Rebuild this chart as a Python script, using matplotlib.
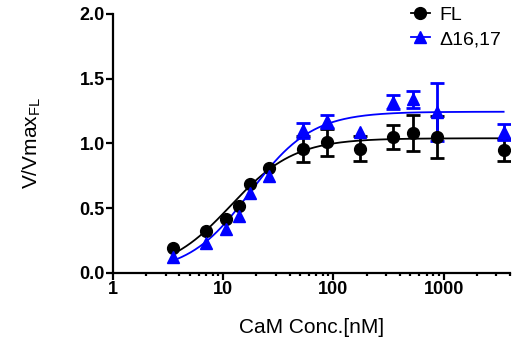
import matplotlib
matplotlib.use("Agg")
import matplotlib.pyplot as plt
import numpy as np
from matplotlib.lines import Line2D
from matplotlib.ticker import LogLocator, NullFormatter, FixedLocator

plt.rcParams['font.family'] = ['Liberation Sans', 'DejaVu Sans']

# CaM concentration (nM)
conc = [3.5, 7, 10.5, 14, 17.5, 26.25, 52.5, 87.5, 175, 350, 525, 875, 3500]

fl_mean = [0.19, 0.32, 0.42, 0.52, 0.69, 0.81, 0.96, 1.01, 0.96, 1.05, 1.08, 1.05, 0.95]
fl_err = [0, 0, 0, 0, 0, 0, 0.10, 0.105, 0.095, 0.095, 0.14, 0.165, 0.087]

d_mean = [0.12, 0.23, 0.34, 0.44, 0.62, 0.75, 1.10, 1.17, 1.09, 1.32, 1.34, 1.24, 1.09]
d_err = [0, 0, 0, 0, 0, 0, 0.055, 0.05, 0, 0.055, 0.065, 0.225, 0.06]

# Hill fit parameters (top, EC50, Hill slope)
fl_fit = (1.04, 11.7, 1.5)
d_fit = (1.245, 17.5, 1.55)

labels = ['FL', 'Δ16,17']
colors = ['black', '#0000ff']
markers = ['o', '^']


def hill(x, top, ec50, n):
    return top * x ** n / (ec50 ** n + x ** n)


fig = plt.figure(figsize=(5.26, 3.49), dpi=100)
ax = fig.add_axes([0.2148, 0.218, 0.7548, 0.742])

xfit = np.logspace(np.log10(conc[0]), np.log10(conc[-1]), 300)
series = [(fl_mean, fl_err, fl_fit), (d_mean, d_err, d_fit)]
handles = []
for (m, e, p), col, mk, lab in zip(series, colors, markers, labels):
    ax.plot(xfit, hill(xfit, *p), color=col, lw=1.3, zorder=2)
    err = np.array(e, dtype=float)
    err[err == 0] = np.nan
    ms = 8.5 if mk == 'o' else 8
    ax.errorbar(conc, m, yerr=err, fmt=mk, color=col, ms=ms,
                elinewidth=2, capsize=5, capthick=2, zorder=3)
    handles.append(Line2D([], [], color=col, marker=mk, ms=ms, lw=1.3))

ax.set_xscale('log')
ax.set_xlim(1, 4000)
ax.set_ylim(0, 2.0)
ax.set_yticks([0, 0.5, 1.0, 1.5, 2.0])
ax.set_yticklabels(['0.0', '0.5', '1.0', '1.5', '2.0'])
ax.xaxis.set_major_locator(FixedLocator([1, 10, 100, 1000]))
ax.set_xticklabels(['1', '10', '100', '1000'])
ax.xaxis.set_minor_locator(LogLocator(base=10, subs=np.arange(2, 10), numticks=20))
ax.xaxis.set_minor_formatter(NullFormatter())

for s in ['top', 'right']:
    ax.spines[s].set_visible(False)
for s in ['left', 'bottom']:
    ax.spines[s].set_linewidth(1.6)

ax.tick_params(axis='both', which='major', direction='out', length=5, width=1.6,
               labelsize=13, pad=1)
ax.tick_params(axis='x', which='minor', direction='out', length=2.5, width=1.6)
for t in ax.get_xticklabels() + ax.get_yticklabels():
    t.set_fontweight('bold')

ax.set_xlabel('CaM Conc.[nM]', fontsize=15, labelpad=14)
ax.set_ylabel('V/Vmax$_{\\mathregular{FL}}$', fontsize=15, labelpad=26)

ax.legend(handles=handles, labels=labels, loc='upper left',
          bbox_to_anchor=(0.73, 1.06), frameon=False, fontsize=14,
          handlelength=1.0, handletextpad=0.5, labelspacing=0.35,
          borderaxespad=0)

fig.savefig('out.png', dpi=100)
